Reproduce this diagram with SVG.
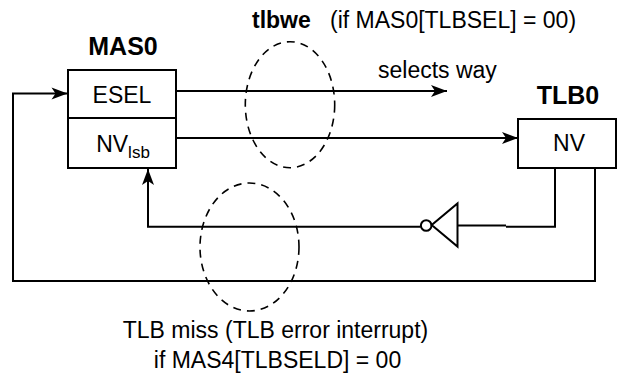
<svg xmlns="http://www.w3.org/2000/svg" width="618" height="373" viewBox="0 0 618 373">
<style>
text{font-family:"Liberation Sans",Arial,sans-serif;fill:#000}
.t{font-size:23px}
.b{font-size:25px;font-weight:bold}
.box{fill:#fff;stroke:#000;stroke-width:2}
.w{fill:none;stroke:#000;stroke-width:2}
.d{fill:none;stroke:#000;stroke-width:1.6;stroke-dasharray:8 6}
</style>
<defs>
<marker id="ah" markerUnits="userSpaceOnUse" markerWidth="18" markerHeight="14" viewBox="0 -7 18 14" refX="17" refY="0" orient="auto">
<path d="M1,-6 L17,0 L1,6 L5,0 Z" fill="#000"/>
</marker>
</defs>
<rect width="618" height="373" fill="#fff"/>
<g id="connectors">
<path class="w" d="M176,91 H447" marker-end="url(#ah)"/>
<path class="w" d="M176,138 H518" marker-end="url(#ah)"/>
<path class="w" d="M595,168 V281 H13 V93.5 H67.5" marker-end="url(#ah)"/>
<path class="w" d="M555,168 V226.7 H506"/>
<path class="w" d="M506,225.5 H457.5"/>
<path class="w" d="M420.7,226.7 H148 V169" marker-end="url(#ah)"/>
</g>
<g id="inverter">
<path class="w" d="M457.5,203.5 V246.5 L431.7,225 Z" stroke-width="1.6"/>
<circle class="w" cx="426.2" cy="225.5" r="5.3" stroke-width="1.6"/>
</g>
<g id="MAS0">
<rect class="box" x="68" y="70" width="108" height="98"/>
<line class="w" x1="68" y1="118" x2="176" y2="118"/>
<text class="b" x="123" y="55" text-anchor="middle">MAS0</text>
<text class="t" x="122" y="102.5" text-anchor="middle">ESEL</text>
<text class="t" x="123" y="152" text-anchor="middle">NV<tspan font-size="17" dy="6">lsb</tspan></text>
</g>
<g id="TLB0">
<rect class="box" x="518" y="119" width="98" height="49"/>
<text class="b" x="568" y="104" text-anchor="middle">TLB0</text>
<text class="t" x="569" y="150.5" text-anchor="middle">NV</text>
</g>
<g id="tlbwe-ellipse">
<ellipse class="d" cx="290" cy="104.7" rx="44.7" ry="63"/>
</g>
<g id="miss-ellipse">
<ellipse class="d" cx="249.5" cy="247" rx="49.5" ry="64"/>
</g>
<g id="labels">
<text class="t" x="252" y="27.5"><tspan font-weight="bold">tlbwe</tspan><tspan x="330">(if MAS0[TLBSEL] = 00)</tspan></text>
<text class="t" x="378" y="78.3">selects way</text>
<text class="t" x="275.5" y="338" text-anchor="middle">TLB miss (TLB error interrupt)</text>
<text class="t" x="277.5" y="367.5" text-anchor="middle">if MAS4[TLBSELD] = 00</text>
</g>
</svg>
